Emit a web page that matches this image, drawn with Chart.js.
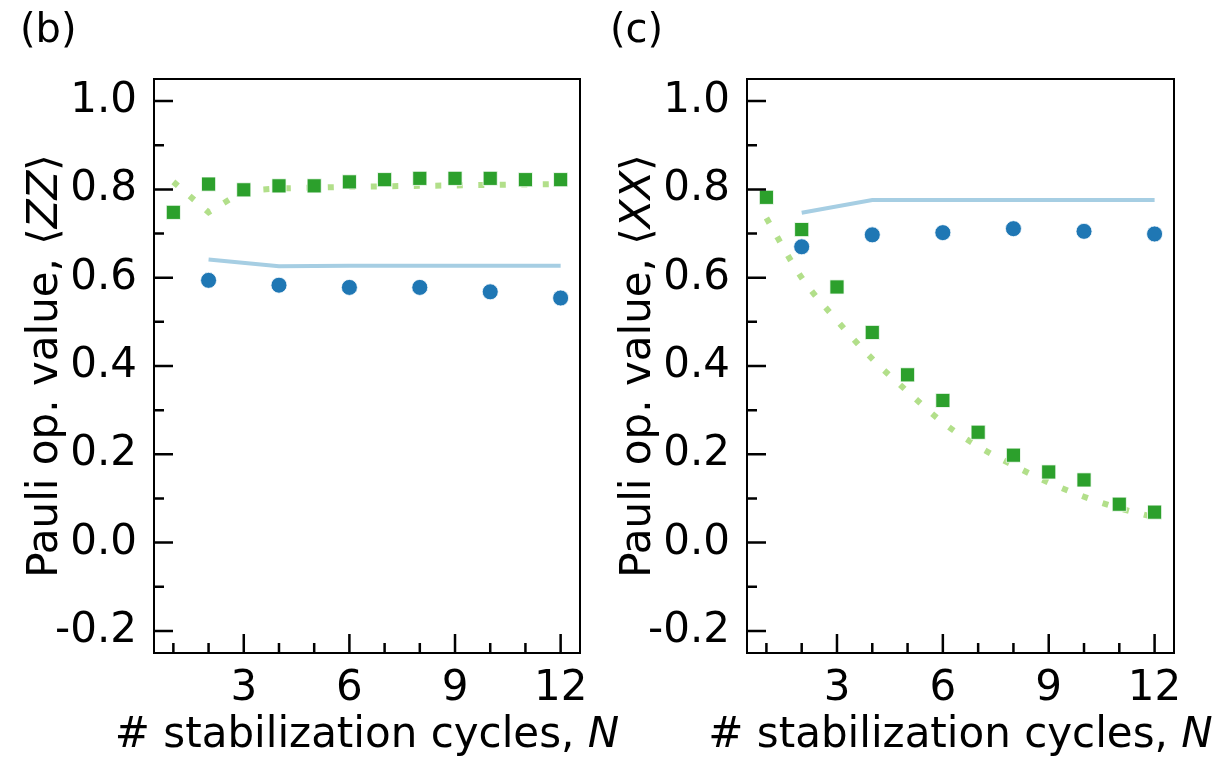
<!DOCTYPE html>
<html>
<head>
<meta charset="utf-8">
<script src="https://cdn.jsdelivr.net/npm/chart.js@4.4.1/dist/chart.umd.min.js"></script>
<style>
    body { margin: 0; background: #fff; }
    #wrap { position: relative; width: 1229px; height: 757px; }
    canvas { position: absolute; top: 0; }
</style>
</head>
<body>
<div id="wrap">
    <canvas id="chartZZ" width="640" height="757" style="left:0px"></canvas>
    <canvas id="chartXX" width="629" height="757" style="left:600px"></canvas>
</div>
<script>
// Cycle numbers
const cyclesAll = [1, 2, 3, 4, 5, 6, 7, 8, 9, 10, 11, 12];
const cyclesEven = [2, 4, 6, 8, 10, 12];

// Panel (b): <ZZ>
const zzMeasured = [0.748, 0.812, 0.799, 0.808, 0.808, 0.817, 0.822, 0.825, 0.825, 0.825, 0.822, 0.822];
const zzSimulated = [0.817, 0.748, 0.797, 0.802, 0.804, 0.806, 0.807, 0.808, 0.809, 0.810, 0.811, 0.812];
const zzEvenMeasured = [0.594, 0.583, 0.578, 0.578, 0.568, 0.554];
const zzEvenSimulated = [0.641, 0.626, 0.627, 0.627, 0.627, 0.627];

// Panel (c): <XX>
const xxMeasured = [0.782, 0.709, 0.579, 0.476, 0.380, 0.322, 0.250, 0.198, 0.160, 0.142, 0.087, 0.069];
const xxSimulated = [0.735, 0.600, 0.503, 0.416, 0.342, 0.272, 0.218, 0.175, 0.136, 0.104, 0.078, 0.057];
const xxEvenMeasured = [0.670, 0.697, 0.702, 0.711, 0.705, 0.699];
const xxEvenSimulated = [0.747, 0.776, 0.776, 0.776, 0.776, 0.776];

// Ticks
const xMajorTicks = [3, 6, 9, 12];
const xMinorTicks = [1, 2, 4, 5, 7, 8, 10, 11];
const yMajorTicks = [-0.2, 0.0, 0.2, 0.4, 0.6, 0.8, 1.0];
const yMinorTicks = [-0.1, 0.1, 0.3, 0.5, 0.7, 0.9];

const FONT = "'DejaVu Sans', sans-serif";
const GREEN = '#2ca02c', LIGHT_GREEN = '#b2df8a', BLUE = '#1f77b4', LIGHT_BLUE = '#a6cee3';

function toPoints(xs, ys) {
    return xs.map((x, i) => ({ x: x, y: ys[i] }));
}

// Draws the matplotlib-like frame, inward ticks, axis titles and panel letter
function makeDecor(panelLetter, opName, yTitleX, letterX) {
    return {
        id: 'decor',
        afterDraw(chart) {
            const ctx = chart.ctx;
            const area = chart.chartArea;
            const xs = chart.scales.x, ys = chart.scales.y;
            ctx.save();
            ctx.strokeStyle = '#000';
            ctx.lineWidth = 2;
            ctx.strokeRect(area.left, area.top, area.right - area.left, area.bottom - area.top);

            ctx.lineWidth = 2.5;
            ctx.beginPath();
            xMajorTicks.forEach(v => {
                const px = xs.getPixelForValue(v);
                ctx.moveTo(px, area.bottom); ctx.lineTo(px, area.bottom - 19);
            });
            xMinorTicks.forEach(v => {
                const px = xs.getPixelForValue(v);
                ctx.moveTo(px, area.bottom); ctx.lineTo(px, area.bottom - 10);
            });
            yMajorTicks.forEach(v => {
                const py = ys.getPixelForValue(v);
                ctx.moveTo(area.left, py); ctx.lineTo(area.left + 19, py);
            });
            yMinorTicks.forEach(v => {
                const py = ys.getPixelForValue(v);
                ctx.moveTo(area.left, py); ctx.lineTo(area.left + 10, py);
            });
            ctx.stroke();

            ctx.fillStyle = '#000';
            ctx.textBaseline = 'alphabetic';

            // x title
            const normal = '42px ' + FONT, italic = 'italic 42px ' + FONT;
            ctx.font = normal;
            const part1 = '# stabilization cycles, ';
            const w1 = ctx.measureText(part1).width;
            ctx.font = italic;
            const w2 = ctx.measureText('N').width;
            let sx = (area.left + area.right) / 2 - (w1 + w2) / 2;
            ctx.font = normal;
            ctx.fillText(part1, sx, 747);
            ctx.font = italic;
            ctx.fillText('N', sx + w1, 747);

            // y title (rotated)
            const pieces = [
                ['Pauli op. value, \u27E8', normal],
                [opName, italic],
                ['\u27E9', normal]
            ];
            let total = 0;
            pieces.forEach(p => { ctx.font = p[1]; total += ctx.measureText(p[0]).width; });
            ctx.translate(yTitleX, (area.top + area.bottom) / 2);
            ctx.rotate(-Math.PI / 2);
            let cx = -total / 2;
            pieces.forEach(p => {
                ctx.font = p[1];
                ctx.fillText(p[0], cx, 0);
                cx += ctx.measureText(p[0]).width;
            });
            ctx.restore();

            ctx.save();
            ctx.fillStyle = '#000';
            ctx.font = '40px ' + FONT;
            ctx.textBaseline = 'alphabetic';
            ctx.fillText(panelLetter, letterX, 42);
            ctx.restore();
        }
    };
}

function makeChart(canvasId, measured, simulated, evenMeasured, evenSimulated, letter, opName, pad, yTitleX, letterX, smooth) {
    return new Chart(document.getElementById(canvasId), {
        type: 'scatter',
        data: {
            datasets: [{
                data: toPoints(cyclesAll, measured),
                pointStyle: 'rect',
                pointRadius: 10,
                backgroundColor: GREEN,
                borderColor: '#fff',
                borderWidth: 0.8,
                showLine: false
            }, {
                data: toPoints(cyclesEven, evenMeasured),
                pointStyle: 'circle',
                pointRadius: 8,
                backgroundColor: BLUE,
                borderColor: '#fff',
                borderWidth: 0.8,
                showLine: false
            }, {
                data: toPoints(cyclesAll, simulated),
                showLine: true,
                pointRadius: 0,
                borderColor: LIGHT_GREEN,
                borderWidth: 6,
                borderDash: [6, 15.5],
                borderCapStyle: 'butt',
                cubicInterpolationMode: smooth ? 'monotone' : 'default',
                tension: 0
            }, {
                data: toPoints(cyclesEven, evenSimulated),
                showLine: true,
                pointRadius: 0,
                borderColor: LIGHT_BLUE,
                borderWidth: 4,
                tension: 0
            }]
        },
        plugins: [makeDecor(letter, opName, yTitleX, letterX)],
        options: {
            responsive: false,
            animation: false,
            layout: { padding: pad },
            plugins: {
                legend: { display: false },
                tooltip: { enabled: false }
            },
            scales: {
                x: {
                    type: 'linear',
                    min: 0.45,
                    max: 12.55,
                    grid: { display: false, drawTicks: false },
                    border: { display: false },
                    afterBuildTicks: s => { s.ticks = xMajorTicks.map(v => ({ value: v })); },
                    afterFit: s => { s.height = 104; },
                    ticks: {
                        padding: 11,
                        color: '#000',
                        font: { family: FONT, size: 42 },
                        maxRotation: 0,
                        callback: v => String(v)
                    }
                },
                y: {
                    type: 'linear',
                    min: -0.25,
                    max: 1.05,
                    grid: { display: false, drawTicks: false },
                    border: { display: false },
                    afterBuildTicks: s => { s.ticks = yMajorTicks.map(v => ({ value: v })); },
                    afterFit: s => { s.width = pad.yWidth; },
                    ticks: {
                        padding: 17,
                        color: '#000',
                        font: { family: FONT, size: 42 },
                        callback: v => v.toFixed(1)
                    }
                }
            }
        }
    });
}

makeChart('chartZZ', zzMeasured, zzSimulated, zzEvenMeasured, zzEvenSimulated, '(b)', 'ZZ',
    { left: 0, top: 79, right: 60, bottom: 0, yWidth: 154 }, 57, 20, false);
makeChart('chartXX', xxMeasured, xxSimulated, xxEvenMeasured, xxEvenSimulated, '(c)', 'XX',
    { left: 0, top: 79, right: 55, bottom: 0, yWidth: 147 }, 50, 10, true);
</script>
</body>
</html>
